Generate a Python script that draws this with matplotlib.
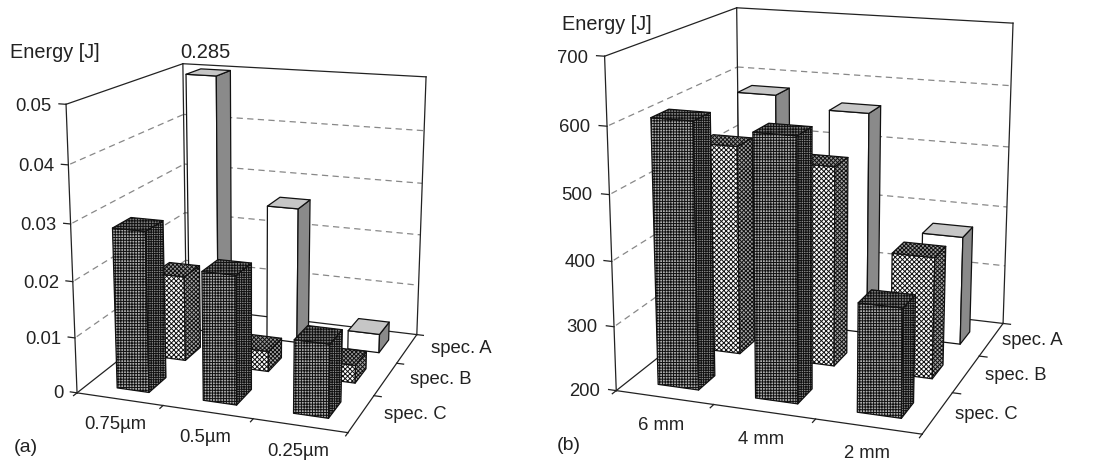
import numpy as np
import matplotlib
matplotlib.use('Agg')
import matplotlib.pyplot as plt
from matplotlib.transforms import offset_copy
from mpl_toolkits.mplot3d import proj3d
from mpl_toolkits.mplot3d.art3d import Poly3DCollection

plt.rcParams['font.family'] = ['Liberation Sans', 'DejaVu Sans']
plt.rcParams['hatch.linewidth'] = 0.7
plt.rcParams['hatch.color'] = '#111111'

W, H = 1103, 462

# Data
specs = ['spec. C', 'spec. B', 'spec. A']
sizes_a = ['0.75µm', '0.5µm', '0.25µm']
sizes_b = ['6 mm', '4 mm', '2 mm']
energy_a_c = [0.0287, 0.0228, 0.0129]
energy_a_b = [0.016, 0.0038, 0.0033]
energy_a_a = [0.285, 0.0262, 0.0036]
energy_b_c = [607, 598, 365]
energy_b_b = [534, 516, 391]
energy_b_a = [583, 565, 378]
zticks_a = [0, 0.01, 0.02, 0.03, 0.04, 0.05]
zticks_b = [200, 300, 400, 500, 600, 700]
zlabels_a = ['0', '0.01', '0.02', '0.03', '0.04', '0.05']
zlabels_b = ['200', '300', '400', '500', '600', '700']

# front, side, top: facecolor and hatch
styles = {
    'A': [('white', None), ('#8a8a8a', None), ('#c6c6c6', None)],
    'B': [('white', 'x' * 7), ('#a8a8a8', 'x' * 8), ('#9a9a9a', 'x' * 8)],
    'C': [('#aeaeae', '+' * 6), ('#8c8c8c', '+' * 7), ('#7a7a7a', '+' * 6)],
}


def bar(ax, x, y, z0, z1, dx, dy, style, zo):
    x0, x1 = x - dx / 2, x + dx / 2
    y0, y1 = y - dy / 2, y + dy / 2
    faces = [
        [(x0, y0, z0), (x1, y0, z0), (x1, y0, z1), (x0, y0, z1)],
        [(x1, y0, z0), (x1, y1, z0), (x1, y1, z1), (x1, y0, z1)],
        [(x0, y0, z1), (x1, y0, z1), (x1, y1, z1), (x0, y1, z1)],
    ]
    for face, (fc, hatch) in zip(faces, styles[style]):
        col = Poly3DCollection([face], facecolors=fc, edgecolors='#111111',
                               linewidths=0.9, hatch=hatch, zorder=zo)
        ax.add_collection3d(col, autolim=False)


def label(ax, x, y, z, s, ha, dy=0.0):
    # project first so the text stays a plain 2D text in the axes
    X, Y, _ = proj3d.proj_transform(x, y, z, ax.get_proj())
    tr = offset_copy(ax.transData, fig=fig, x=0, y=dy, units='dots')
    ax.text2D(float(X), float(Y), s, transform=tr, ha=ha, va='center',
              fontsize=13.3, color='#222222')


def panel(rect, view, zlim, zticks, zlabels, sizes, series, xlab_x, xlab_y, spec_x, spec_dy, ztxt_x, bar_geo):
    left, top, size = rect
    ax = fig.add_axes([left / W, 1 - (top + size) / H, size / W, size / H],
                      projection='3d')
    elev, azim, foc, a, b, roll = view
    ax.set_xlim(-0.5, 2.5, view_margin=0)
    ax.set_ylim(-0.5, 2.5, view_margin=0)
    ax.set_zlim(zlim[0], zlim[1], view_margin=0)
    ax.view_init(elev, azim, roll)
    ax.set_proj_type('persp', focal_length=foc)
    ax.set_box_aspect((a, b, 1))
    ax.set_axis_off()
    ax.computed_zorder = False
    ax.patch.set_alpha(0)

    x0, x1, y0, y1 = -0.5, 2.5, -0.5, 2.5
    z0, z1 = zlim
    box = [((x0, y0, z0), (x0, y0, z1)), ((x0, y0, z1), (x0, y1, z1)),
           ((x0, y1, z1), (x1, y1, z1)), ((x1, y1, z1), (x1, y1, z0)),
           ((x0, y1, z1), (x0, y1, z0)), ((x0, y0, z0), (x1, y0, z0)),
           ((x1, y0, z0), (x1, y1, z0)), ((x0, y0, z0), (x0, y1, z0)),
           ((x0, y1, z0), (x1, y1, z0))]
    for p, q in box:
        ax.plot(*zip(p, q), color='#222222', lw=0.9, zorder=2)

    for z in zticks[1:-1]:
        ax.plot([x0, x0], [y0 + 0.04, y1], [z, z], color='#888888', lw=0.9,
                ls=(0, (5, 3.5)), zorder=1)
        ax.plot([x0, x1], [y1, y1], [z, z], color='#888888', lw=0.9,
                ls=(0, (5, 3.5)), zorder=1)

    for z, lab in zip(zticks, zlabels):
        ax.plot([x0 - 0.08, x0], [y0, y0], [z, z], color='#222222', lw=0.9, zorder=2)
        label(ax, x0 - ztxt_x, y0, z, lab, 'right', dy=-3)
    for x in [-0.5, 0.5, 1.5, 2.5]:
        ax.plot([x, x], [y0 - 0.08, y0], [z0, z0], color='#222222', lw=0.9, zorder=2)
    for y in [0.5, 1.5, 2.5]:
        ax.plot([x1, x1 + 0.08], [y, y], [z0, z0], color='#222222', lw=0.9, zorder=2)

    for i, lab in enumerate(sizes):
        label(ax, i + xlab_x[i], xlab_y[i], z0, lab, 'center')
    for j, lab in enumerate(specs):
        label(ax, spec_x[j], j, z0, lab, 'left', dy=spec_dy)

    off_x, off_y, dx, dy = bar_geo
    zo = 3
    for j in [2, 1, 0]:
        vals, st = series[j], 'CBA'[j]
        for i in range(3):
            bar(ax, i + off_x, j + off_y, z0, min(vals[i], z1), dx, dy, st, zo)
            zo += 1
    return ax


fig = plt.figure(figsize=(W / 100, H / 100), dpi=100)

panel((250.89 - 231.92, 236.04 - 231.92, 463.84), (15.455, -70.2772, 0.5216, 0.9637, 0.9678, -0.0737),
      (0, 0.05), zticks_a, zlabels_a, sizes_a, [energy_a_c, energy_a_b, energy_a_a],
      [0.24, 0.21, 0.17], [-1.1, -1.09, -1.07], [2.74, 2.77, 2.78], 2.5, 0.16,
      (0.03, -0.005, 0.375, 0.45))
panel((813.57 - 266.68, 208.40 - 266.68, 533.35), (15.3912, -70.3983, 0.5586, 0.9391, 0.9615, -0.0728),
      (200, 700), zticks_b, zlabels_b, sizes_b, [energy_b_c, energy_b_b, energy_b_a],
      [0.25, 0.21, 0.17], [-1.1, -1.08, -1.05], [2.66, 2.69, 2.61], 0.5, 0.17,
      (0.015, -0.04, 0.42, 0.38))

for x, y, s, fs in [(10, 52, 'Energy [J]', 14.3), (180, 52, '0.285', 14.5), (14, 447, '(a)', 14),
                    (562, 24, 'Energy [J]', 14.3), (557, 446, '(b)', 14)]:
    fig.text(x / W, 1 - y / H, s, ha='left', va='center', fontsize=fs, color='#222222')

fig.savefig('out.png', dpi=100)
